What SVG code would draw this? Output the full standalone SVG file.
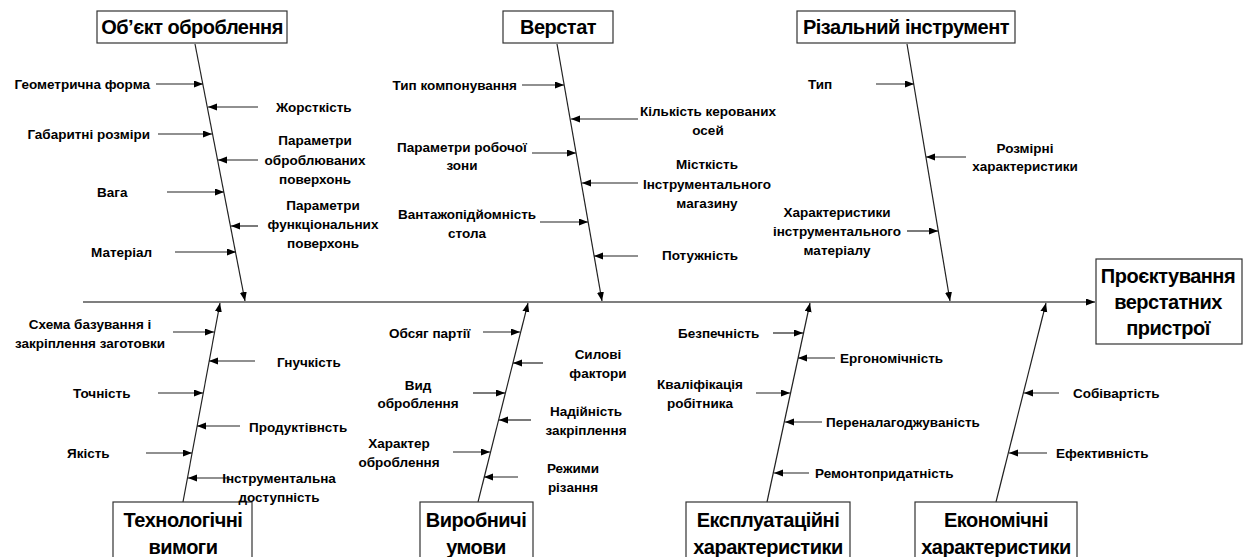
<svg xmlns="http://www.w3.org/2000/svg" width="1244" height="557" viewBox="0 0 1244 557">
<defs>
<marker id="ah" markerUnits="userSpaceOnUse" markerWidth="10" markerHeight="8" refX="9" refY="3.5" orient="auto">
<path d="M0,0 L9,3.5 L0,7 z" fill="#000"/>
</marker>
<style>
.bx{fill:#fff;stroke:#333;stroke-width:1.2}
.ln{stroke:#222;stroke-width:1.2;fill:none;marker-end:url(#ah)}
.main{stroke:#555;stroke-width:1.6;fill:none;marker-end:url(#ah)}
.t{font-family:"Liberation Sans",Arial,sans-serif;font-weight:bold;font-size:13.5px;fill:#000}
.c{text-anchor:middle}
.e{text-anchor:end}
.h{font-family:"Liberation Sans",Arial,sans-serif;font-weight:bold;font-size:20px;letter-spacing:-0.5px;fill:#000;text-anchor:middle}
</style>
</defs>
<rect width="1244" height="557" fill="#fff"/>
<g id="connectors">
<line class="main" x1="83" y1="302" x2="1095" y2="302"/>
<line class="ln" x1="195" y1="44" x2="245" y2="301"/>
<line class="ln" x1="557" y1="44" x2="602" y2="301"/>
<line class="ln" x1="907" y1="44" x2="950" y2="301"/>
<line class="ln" x1="183" y1="502" x2="220" y2="303"/>
<line class="ln" x1="478" y1="502" x2="528" y2="303"/>
<line class="ln" x1="767" y1="502" x2="810" y2="303"/>
<line class="ln" x1="996" y1="502" x2="1046" y2="303"/>
<line class="ln" x1="156" y1="84" x2="203" y2="84"/>
<line class="ln" x1="258" y1="107" x2="208" y2="107"/>
<line class="ln" x1="158" y1="134" x2="212" y2="134"/>
<line class="ln" x1="258" y1="160" x2="218" y2="160"/>
<line class="ln" x1="167" y1="192" x2="224" y2="192"/>
<line class="ln" x1="258" y1="226" x2="231" y2="226"/>
<line class="ln" x1="175" y1="252" x2="236" y2="252"/>
<line class="ln" x1="522" y1="85" x2="564" y2="85"/>
<line class="ln" x1="638" y1="119" x2="571" y2="119"/>
<line class="ln" x1="532" y1="153" x2="576" y2="153"/>
<line class="ln" x1="638" y1="183" x2="582" y2="183"/>
<line class="ln" x1="540" y1="222" x2="588" y2="222"/>
<line class="ln" x1="638" y1="256" x2="594" y2="256"/>
<line class="ln" x1="876" y1="84" x2="914" y2="84"/>
<line class="ln" x1="966" y1="157" x2="926" y2="157"/>
<line class="ln" x1="907" y1="231" x2="938" y2="231"/>
<line class="ln" x1="173" y1="332" x2="214" y2="332"/>
<line class="ln" x1="255" y1="361" x2="209" y2="361"/>
<line class="ln" x1="158" y1="393" x2="203" y2="393"/>
<line class="ln" x1="240" y1="426" x2="197" y2="426"/>
<line class="ln" x1="146" y1="453" x2="192" y2="453"/>
<line class="ln" x1="230" y1="478" x2="188" y2="478"/>
<line class="ln" x1="483" y1="332" x2="520" y2="332"/>
<line class="ln" x1="543" y1="363" x2="513" y2="363"/>
<line class="ln" x1="473" y1="393" x2="505" y2="393"/>
<line class="ln" x1="531" y1="420" x2="499" y2="420"/>
<line class="ln" x1="453" y1="452" x2="490" y2="452"/>
<line class="ln" x1="518" y1="477" x2="484" y2="477"/>
<line class="ln" x1="773" y1="333" x2="803" y2="333"/>
<line class="ln" x1="835" y1="358" x2="798" y2="358"/>
<line class="ln" x1="756" y1="393" x2="790" y2="393"/>
<line class="ln" x1="822" y1="422" x2="785" y2="422"/>
<line class="ln" x1="809" y1="473" x2="774" y2="473"/>
<line class="ln" x1="1059" y1="393" x2="1024" y2="393"/>
<line class="ln" x1="1047" y1="453" x2="1009" y2="453"/>
</g>
<g id="effect">
<rect class="bx" x="1096" y="259" width="146" height="85"/>
<text class="h" x="1168" y="283">Проєктування</text>
<text class="h" x="1168" y="309">верстатних</text>
<text class="h" x="1168" y="335">пристрої</text>
</g>
<g id="cat-object">
<rect class="bx" x="97" y="11" width="190" height="32"/>
<text class="h" x="192" y="34">Об’єкт оброблення</text>
<text class="t e" x="150" y="89">Геометрична форма</text>
<text class="t" x="276" y="112">Жорсткість</text>
<text class="t e" x="150" y="139">Габаритні розміри</text>
<text class="t c" x="315" y="145">Параметри</text>
<text class="t c" x="315" y="165">оброблюваних</text>
<text class="t c" x="315" y="184">поверхонь</text>
<text class="t" x="97" y="197">Вага</text>
<text class="t c" x="323" y="210">Параметри</text>
<text class="t c" x="323" y="229">функціональних</text>
<text class="t c" x="323" y="248">поверхонь</text>
<text class="t" x="91" y="257">Матеріал</text>
</g>
<g id="cat-machine">
<rect class="bx" x="503" y="11" width="110" height="32"/>
<text class="h" x="558" y="34">Верстат</text>
<text class="t e" x="517" y="90">Тип компонування</text>
<text class="t c" x="708" y="116">Кількість керованих</text>
<text class="t c" x="708" y="135">осей</text>
<text class="t c" x="462" y="152">Параметри робочої</text>
<text class="t c" x="462" y="170">зони</text>
<text class="t c" x="707" y="169">Місткість</text>
<text class="t c" x="707" y="189">Інструментального</text>
<text class="t c" x="707" y="208">магазину</text>
<text class="t c" x="467" y="219">Вантажопідйомність</text>
<text class="t c" x="467" y="238">стола</text>
<text class="t" x="662" y="260">Потужність</text>
</g>
<g id="cat-tool">
<rect class="bx" x="797" y="11" width="218" height="32"/>
<text class="h" x="906" y="34">Різальний інструмент</text>
<text class="t" x="808" y="89">Тип</text>
<text class="t c" x="1025" y="153">Розмірні</text>
<text class="t c" x="1025" y="171">характеристики</text>
<text class="t c" x="837" y="217">Характеристики</text>
<text class="t c" x="837" y="236">інструментального</text>
<text class="t c" x="837" y="255">матеріалу</text>
</g>
<g id="cat-tech">
<rect class="bx" x="113" y="502" width="139" height="60"/>
<text class="h" x="183" y="527">Технологічні</text>
<text class="h" x="183" y="554">вимоги</text>
<text class="t c" x="90" y="329">Схема базування і</text>
<text class="t c" x="90" y="348">закріплення заготовки</text>
<text class="t" x="277" y="367">Гнучкість</text>
<text class="t" x="73" y="398">Точність</text>
<text class="t" x="249" y="432">Продуктівнсть</text>
<text class="t" x="67" y="458">Якість</text>
<text class="t c" x="279" y="483">Інструментальна</text>
<text class="t c" x="279" y="502">доступність</text>
</g>
<g id="cat-production">
<rect class="bx" x="420" y="502" width="113" height="60"/>
<text class="h" x="476" y="527">Виробничі</text>
<text class="h" x="476" y="554">умови</text>
<text class="t" x="389" y="338">Обсяг партії</text>
<text class="t c" x="598" y="359">Силові</text>
<text class="t c" x="598" y="378">фактори</text>
<text class="t c" x="418" y="390">Вид</text>
<text class="t c" x="418" y="408">оброблення</text>
<text class="t c" x="586" y="416">Надійність</text>
<text class="t c" x="586" y="435">закріплення</text>
<text class="t c" x="399" y="448">Характер</text>
<text class="t c" x="399" y="467">оброблення</text>
<text class="t c" x="573" y="473">Режими</text>
<text class="t c" x="573" y="492">різання</text>
</g>
<g id="cat-operation">
<rect class="bx" x="686" y="502" width="164" height="60"/>
<text class="h" x="768" y="527">Експлуатаційні</text>
<text class="h" x="768" y="554">характеристики</text>
<text class="t" x="678" y="338">Безпечність</text>
<text class="t" x="840" y="363">Ергономічність</text>
<text class="t c" x="700" y="389">Кваліфікація</text>
<text class="t c" x="700" y="408">робітника</text>
<text class="t" x="826" y="427">Переналагоджуваність</text>
<text class="t" x="815" y="478">Ремонтопридатність</text>
</g>
<g id="cat-economic">
<rect class="bx" x="915" y="502" width="162" height="60"/>
<text class="h" x="996" y="527">Економічні</text>
<text class="h" x="996" y="554">характеристики</text>
<text class="t" x="1073" y="398">Собівартість</text>
<text class="t" x="1056" y="458">Ефективність</text>
</g>
</svg>
